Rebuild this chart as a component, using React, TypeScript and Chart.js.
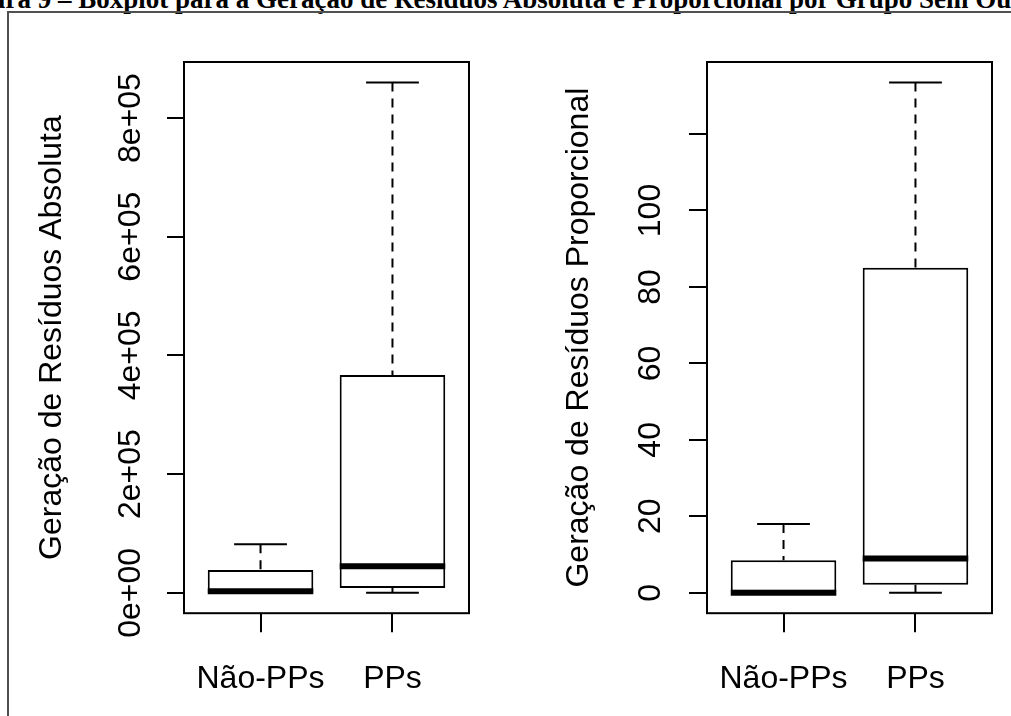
import React, { useEffect, useRef } from "react";
import { Chart, registerables } from "chart.js";

Chart.register(...registerables);

const SANS = "'Liberation Sans', Arial, Helvetica, sans-serif";
const SERIF = "'Liberation Serif', 'Times New Roman', Times, serif";

// Groups and their positions on the x axis (R boxplot style: 1, 2)
const groupNames = ["Não-PPs", "PPs"];
const groupPositions = [1, 2];

// Absolute waste generation: five-number summary per group
const absMin = [0, 0];
const absQ1 = [300, 8000];
const absMedian = [2500, 44700];
const absQ3 = [38400, 367000];
const absMax = [81900, 860000];
const absTicks = [0, 200000, 400000, 600000, 800000];
const absTickLabels = ["0e+00", "2e+05", "4e+05", "6e+05", "8e+05"];

// Proportional waste generation: five-number summary per group
const propMin = [0, 0];
const propQ1 = [0, 2.1];
const propMedian = [0, 9.0];
const propQ3 = [8.5, 85];
const propMax = [18, 133.5];
const propTicks = [0, 20, 40, 60, 80, 100, 120];
const propTickLabels = ["0", "20", "40", "60", "80", "100", ""];

const BOX_HALF = 0.4;
const STAPLE_HALF = 0.2;
const CANVAS_H = 745;

// R's default axis range: data range padded by 4% on each side
function padRange(lo: number, hi: number): [number, number] {
  const d = (hi - lo) * 0.04;
  return [lo - d, hi + d];
}

const boxParts = {
  id: "boxParts",
  afterDatasetsDraw(chart: any, _args: any, o: any) {
    const { ctx } = chart;
    const x = chart.scales.x;
    const y = chart.scales.y;
    ctx.save();
    ctx.strokeStyle = "#000";
    groupPositions.forEach((p: number, i: number) => {
      const cx = x.getPixelForValue(p);
      const sHalf = x.getPixelForValue(p + STAPLE_HALF) - cx;
      const bHalf = x.getPixelForValue(p + BOX_HALF) - cx;
      const yMin = y.getPixelForValue(o.mins[i]);
      const yQ1 = y.getPixelForValue(o.q1s[i]);
      const yMed = y.getPixelForValue(o.medians[i]);
      const yQ3 = y.getPixelForValue(o.q3s[i]);
      const yMax = y.getPixelForValue(o.maxs[i]);
      // whiskers (dashed), drawn from the staple towards the box
      ctx.lineWidth = 2;
      ctx.setLineDash([9, 7]);
      ctx.beginPath();
      ctx.moveTo(cx, yMax);
      ctx.lineTo(cx, yQ3);
      ctx.moveTo(cx, yMin);
      ctx.lineTo(cx, yQ1);
      ctx.stroke();
      // staples
      ctx.setLineDash([]);
      ctx.beginPath();
      ctx.moveTo(cx - sHalf, yMax);
      ctx.lineTo(cx + sHalf, yMax);
      ctx.moveTo(cx - sHalf, yMin);
      ctx.lineTo(cx + sHalf, yMin);
      ctx.stroke();
      // median
      ctx.lineWidth = 6;
      ctx.beginPath();
      ctx.moveTo(cx - bHalf, yMed);
      ctx.lineTo(cx + bHalf, yMed);
      ctx.stroke();
    });
    ctx.restore();
  },
  afterDraw(chart: any, _args: any, o: any) {
    const { ctx, chartArea: ca } = chart;
    const y = chart.scales.y;
    ctx.save();
    ctx.strokeStyle = "#000";
    ctx.lineWidth = 2;
    ctx.strokeRect(ca.left, ca.top, ca.right - ca.left, ca.bottom - ca.top);
    // rotated y tick labels, reading upwards
    ctx.fillStyle = "#000";
    ctx.font = `32px ${SANS}`;
    ctx.textAlign = "center";
    ctx.textBaseline = "alphabetic";
    o.ticks.forEach((v: number, i: number) => {
      const py = y.getPixelForValue(v);
      ctx.save();
      ctx.translate(o.labelBaseline, py);
      ctx.rotate(-Math.PI / 2);
      ctx.fillText(o.labels[i], 0, 0);
      ctx.restore();
    });
    ctx.restore();
  },
};

type PanelProps = {
  left: number;
  width: number;
  plotRight: number;
  yTitle: string;
  titlePadTop: number;
  titlePadBottom: number;
  yTickLength: number;
  labelBaseline: number;
  mins: number[];
  q1s: number[];
  medians: number[];
  q3s: number[];
  maxs: number[];
  ticks: number[];
  labels: string[];
};

function BoxPanel(props: PanelProps) {
  const ref = useRef<HTMLCanvasElement>(null);
  useEffect(() => {
    const p = props;
    const [ymin, ymax] = padRange(Math.min(...p.mins), Math.max(...p.maxs));
    const chart = new Chart(ref.current as HTMLCanvasElement, {
      type: "bar",
      data: {
        datasets: [
          {
            data: groupPositions.map((g, i) => ({ x: g, y: [p.q1s[i], p.q3s[i]] })) as any,
            backgroundColor: "#ffffff",
            borderColor: "#000000",
            borderWidth: 2,
            borderSkipped: false,
            categoryPercentage: 0.8,
            barPercentage: 1,
          },
        ],
      },
      options: {
        responsive: false,
        animation: false,
        devicePixelRatio: 1,
        layout: { padding: { left: 0, right: p.width - p.plotRight, top: 62, bottom: 18.8 } },
        plugins: {
          legend: { display: false },
          tooltip: { enabled: false },
          boxParts: {
            mins: p.mins,
            q1s: p.q1s,
            medians: p.medians,
            q3s: p.q3s,
            maxs: p.maxs,
            ticks: p.ticks,
            labels: p.labels,
            labelBaseline: p.labelBaseline,
          },
        } as any,
        scales: {
          x: {
            type: "linear",
            min: 0.42,
            max: 2.58,
            offset: false,
            afterBuildTicks: (s: any) => {
              s.ticks = groupPositions.map((v) => ({ value: v }));
            },
            ticks: {
              callback: (_v: any, i: number) => groupNames[i],
              font: { family: SANS, size: 32 },
              color: "#000",
              padding: 27.8,
              maxRotation: 0,
              minRotation: 0,
              autoSkip: false,
            },
            grid: { drawOnChartArea: false, offset: false, tickLength: 19, color: "#000", lineWidth: 2 },
            border: { display: false },
          },
          y: {
            type: "linear",
            min: ymin,
            max: ymax,
            afterBuildTicks: (s: any) => {
              s.ticks = p.ticks.map((v) => ({ value: v }));
            },
            ticks: { display: false },
            grid: { drawOnChartArea: false, tickLength: p.yTickLength, color: "#000", lineWidth: 2 },
            border: { display: false },
            title: {
              display: true,
              text: p.yTitle,
              color: "#000",
              font: { family: SANS, size: 32 },
              padding: { top: p.titlePadTop, bottom: p.titlePadBottom },
            },
          },
        } as any,
      },
      plugins: [boxParts as any],
    });
    return () => chart.destroy();
  }, []);
  return (
    <canvas
      ref={ref}
      width={props.width}
      height={CANVAS_H}
      style={{ position: "absolute", left: props.left, top: 0, width: props.width, height: CANVAS_H }}
    />
  );
}

export default function App() {
  return (
    <div
      style={{
        position: "fixed",
        left: 0,
        top: 0,
        width: 1011,
        height: 716,
        overflow: "hidden",
        background: "#fff",
      }}
    >
      <div
        style={{
          position: "absolute",
          left: -47,
          top: -14,
          fontFamily: SERIF,
          fontWeight: "bold",
          fontSize: 27,
          lineHeight: "27px",
          whiteSpace: "nowrap",
          color: "#000",
        }}
      >
        Figura 9 – Boxplot para a Geração de Resíduos Absoluta e Proporcional por Grupo Sem Outliers
      </div>
      <div
        style={{
          position: "absolute",
          left: 7,
          top: 11,
          width: 1100,
          height: 800,
          borderLeft: "2px solid #505050",
          borderTop: "2px solid #505050",
        }}
      />
      <BoxPanel
        left={0}
        width={500}
        plotRight={469}
        yTitle="Geração de Resíduos Absoluta"
        titlePadTop={32.8}
        titlePadBottom={95.8}
        yTickLength={17}
        labelBaseline={140}
        mins={absMin}
        q1s={absQ1}
        medians={absMedian}
        q3s={absQ3}
        maxs={absMax}
        ticks={absTicks}
        labels={absTickLabels}
      />
      <BoxPanel
        left={500}
        width={511}
        plotRight={492}
        yTitle="Geração de Resíduos Proporcional"
        titlePadTop={59.8}
        titlePadBottom={90.8}
        yTickLength={18}
        labelBaseline={160}
        mins={propMin}
        q1s={propQ1}
        medians={propMedian}
        q3s={propQ3}
        maxs={propMax}
        ticks={propTicks}
        labels={propTickLabels}
      />
    </div>
  );
}
